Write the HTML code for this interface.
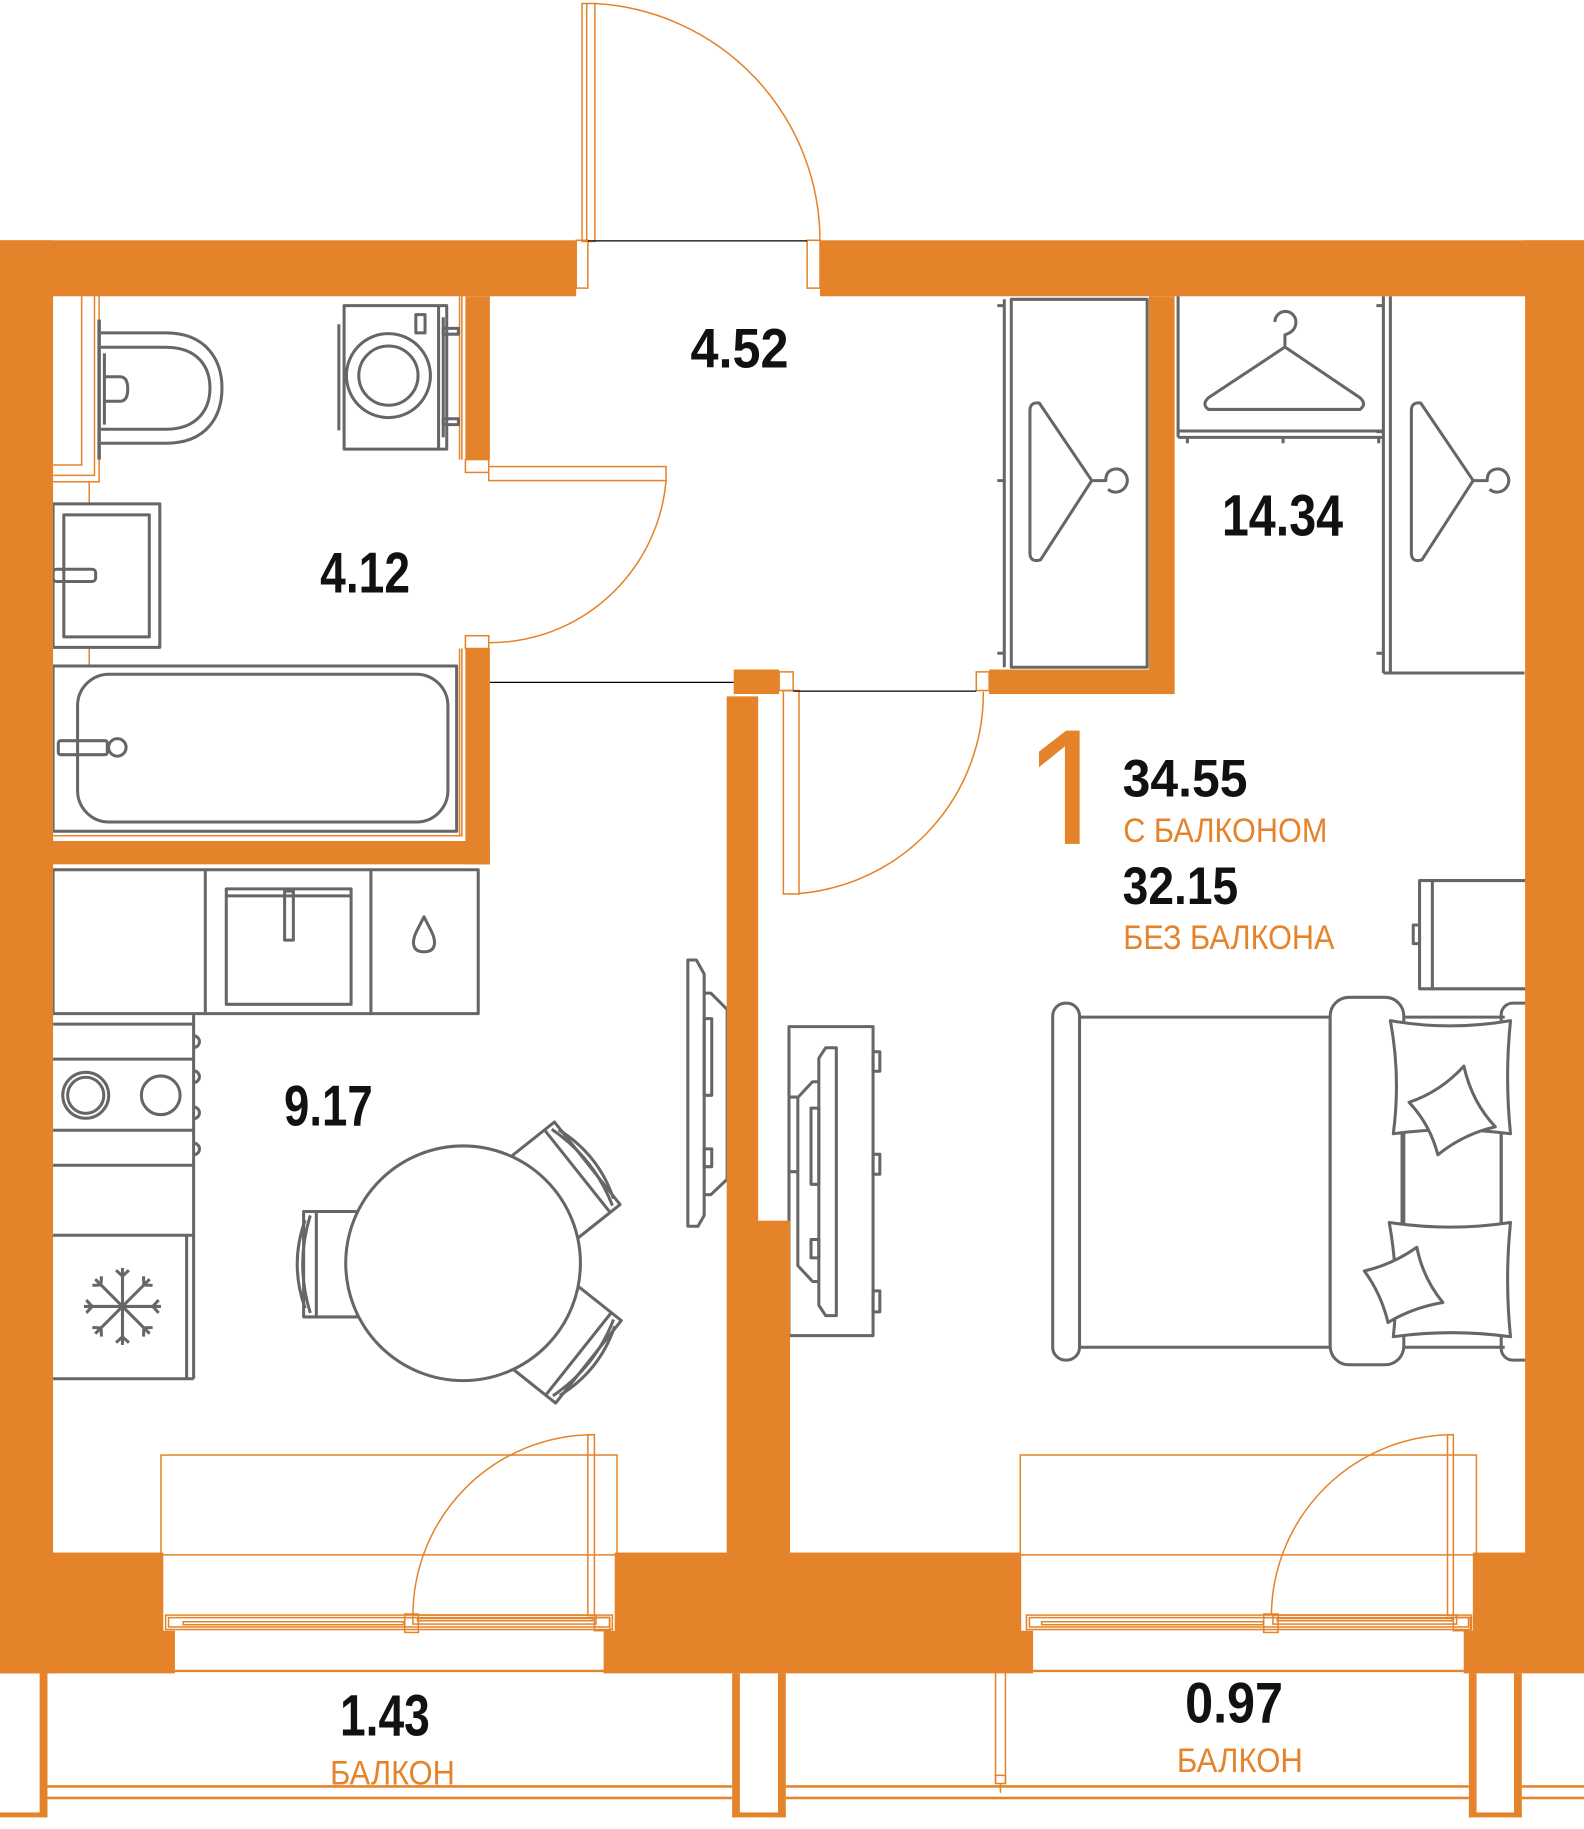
<!DOCTYPE html>
<html><head><meta charset="utf-8"><style>
html,body{margin:0;padding:0;background:#fff;overflow:hidden;}
svg{display:block;}
</style></head><body>
<svg width="1584" height="1829" viewBox="0 0 1358 1568" preserveAspectRatio="none" xmlns="http://www.w3.org/2000/svg">
<rect x="0" y="0" width="1358" height="1568" fill="#fff"/>

<!-- thin orange lines (finishes, doors, windows) -->
<g fill="none" stroke="#E5832A" stroke-width="1.3">
  <!-- bathroom finishes -->
  <path d="M45.5,398.6 H70 V254"/>
  <path d="M45.5,407.5 H81 V254"/>
  <path d="M45.5,413 H85 V252 H396 V394"/>
  <path d="M394,254 V394"/>
  <path d="M76.5,413 V432 M76.5,555 V571"/>
  <path d="M45.5,716.5 H396 V556"/>
  <path d="M394,556 V716"/>
  <!-- entrance door -->
  <rect x="499" y="3" width="11" height="204"/>
  <line x1="503" y1="3" x2="503" y2="207"/>
  <rect x="494" y="206" width="10" height="41"/>
  <rect x="692" y="206" width="11" height="41"/>
  <path d="M510,3 A204,204 0 0 1 703,207"/>
  <!-- bathroom door -->
  <rect x="399" y="394" width="20" height="11"/>
  <rect x="399" y="545" width="20" height="11"/>
  <rect x="419" y="400" width="152" height="12"/>
  <path d="M571,412 A152,152 0 0 1 419,551"/>
  <!-- bedroom door -->
  <rect x="668" y="576" width="12" height="16"/>
  <rect x="837" y="576" width="11" height="16"/>
  <rect x="671.6" y="592" width="13.4" height="174.4"/>
  <path d="M685,766 A172,172 0 0 0 843,593"/>
  <!-- kitchen balcony door/window -->
  <rect x="138" y="1247.4" width="391" height="85.6"/>
  <rect x="142" y="1384.6" width="383" height="12.4"/>
  <rect x="144.5" y="1386.8" width="378" height="8"/>
  <rect x="157" y="1390.3" width="189" height="2.6"/>
  <rect x="347" y="1383.7" width="11.7" height="15.8"/>
  <rect x="354" y="1384.6" width="157" height="7.7"/>
  <rect x="358" y="1387.5" width="150" height="2"/>
  <rect x="509.6" y="1386.6" width="13.2" height="11.4"/>
  <rect x="504" y="1230" width="5.6" height="155"/>
  <path d="M509,1230 A155,155 0 0 0 354,1385"/>
  <!-- bedroom balcony door/window -->
  <rect x="874.7" y="1247.4" width="391.1" height="85.6"/>
  <rect x="880" y="1384.6" width="381.5" height="12.4"/>
  <rect x="882.5" y="1386.8" width="376.5" height="8"/>
  <rect x="893" y="1390.3" width="190" height="2.6"/>
  <rect x="1083.4" y="1383.7" width="12.3" height="15.8"/>
  <rect x="1091.3" y="1384.6" width="157.5" height="7.7"/>
  <rect x="1095" y="1387.5" width="150" height="2"/>
  <rect x="1246" y="1386.6" width="14.6" height="11.4"/>
  <rect x="1241" y="1230" width="5" height="155"/>
  <path d="M1246,1230 A156,156 0 0 0 1090,1385"/>
  <!-- under openings -->
  <line x1="150" y1="1432.5" x2="518" y2="1432.5" stroke-width="2"/>
  <line x1="885" y1="1432.5" x2="1255" y2="1432.5" stroke-width="2"/>
  <!-- thin balcony post -->
  <line x1="853.5" y1="1434" x2="853.5" y2="1529"/>
  <line x1="862" y1="1434" x2="862" y2="1529"/>
  <rect x="853.5" y="1522" width="8.5" height="7"/>
  <line x1="857.7" y1="1529" x2="857.7" y2="1537"/>
</g>

<!-- black threshold lines -->
<g stroke="#000" stroke-width="1">
  <line x1="504" y1="206.5" x2="692" y2="206.5"/>
  <line x1="420" y1="585" x2="629" y2="585"/>
  <line x1="680" y1="592.5" x2="837" y2="592.5"/>
</g>

<!-- gray fixtures -->
<g fill="none" stroke="#666" stroke-width="2.6" stroke-linejoin="round">
  <!-- toilet -->
  <line x1="85" y1="274" x2="85" y2="394" stroke-width="3"/>
  <path d="M86.6,285.4 L142,285.4 C178,285.4 190.3,310 190.3,332.7 C190.3,356 178,380 142,380 L86.6,380"/>
  <path d="M86.6,297.7 L142,297.7 C170,297.7 180,315 180,332.7 C180,350 170,368 142,368 L86.6,368"/>
  <path d="M89.5,323 L103,323 Q109.5,323 109.5,333.5 Q109.5,344 103,344 L89.5,344"/>
  <line x1="89.5" y1="303" x2="89.5" y2="364"/>
  <!-- washing machine -->
  <rect x="295" y="262" width="88" height="123"/>
  <line x1="290.5" y1="278" x2="290.5" y2="369"/>
  <line x1="376" y1="262" x2="376" y2="385"/>
  <line x1="380" y1="272" x2="380" y2="375"/>
  <rect x="380" y="281.5" width="13" height="5"/>
  <rect x="380" y="359" width="13" height="5"/>
  <rect x="356.5" y="269.7" width="7.9" height="15.7"/>
  <circle cx="333" cy="322" r="36"/>
  <circle cx="333" cy="322" r="25.4"/>
  <!-- bathroom sink -->
  <rect x="45.5" y="432" width="91.5" height="123"/>
  <rect x="54.7" y="441.4" width="73.3" height="104.6"/>
  <rect x="45.5" y="488" width="36.5" height="10.5" rx="3"/>
  <!-- bath -->
  <rect x="45.5" y="571" width="346" height="141.6"/>
  <rect x="66.5" y="578" width="317.5" height="126.7" rx="27"/>
  <rect x="50" y="635" width="42" height="12" rx="2"/>
  <circle cx="100.6" cy="640.7" r="7.5"/>

  <!-- kitchen counter -->
  <rect x="45.5" y="745.6" width="364.5" height="123.4"/>
  <line x1="176" y1="745.6" x2="176" y2="869"/>
  <line x1="318" y1="745.6" x2="318" y2="869"/>
  <rect x="194" y="762" width="107" height="99"/>
  <line x1="194" y1="768" x2="301" y2="768"/>
  <rect x="244" y="764" width="7.5" height="42"/>
  <path d="M363.5,786 C358,797 354.5,802 354.5,808 Q354.5,816 363.5,816 Q372.5,816 372.5,808 C372.5,802 369,797 363.5,786 Z"/>
  <!-- left column -->
  <line x1="166" y1="869" x2="166" y2="1182"/>
  <line x1="160" y1="1059" x2="160" y2="1182"/>
  <line x1="45.5" y1="878" x2="166" y2="878"/>
  <line x1="45.5" y1="908" x2="166" y2="908"/>
  <line x1="45.5" y1="969" x2="166" y2="969"/>
  <line x1="45.5" y1="999" x2="166" y2="999"/>
  <line x1="45.5" y1="1059" x2="166" y2="1059"/>
  <line x1="45.5" y1="1182" x2="166" y2="1182"/>
  <circle cx="73.5" cy="939" r="19.7"/>
  <circle cx="73.5" cy="939" r="15.5"/>
  <circle cx="137.8" cy="939" r="16.6"/>
  <path d="M166,888 A4.5,4.5 0 0 1 166,898 M166,918 A4.5,4.5 0 0 1 166,928 M166,949 A4.5,4.5 0 0 1 166,959 M166,980 A4.5,4.5 0 0 1 166,990"/>
  <!-- snowflake -->
  <g transform="translate(105,1120)">
    <g id="arm"><line x1="0" y1="0" x2="0" y2="-33"/><path d="M-5.5,-31 L0,-26 L5.5,-31"/></g>
    <use href="#arm" transform="rotate(45)"/>
    <use href="#arm" transform="rotate(90)"/>
    <use href="#arm" transform="rotate(135)"/>
    <use href="#arm" transform="rotate(180)"/>
    <use href="#arm" transform="rotate(225)"/>
    <use href="#arm" transform="rotate(270)"/>
    <use href="#arm" transform="rotate(315)"/>
  </g>
  <!-- kitchen TV -->
  <path d="M589.7,823 L597,823 L603.7,835 L603.7,1042 L598.4,1051.3 L589.7,1051.3 Z"/>
  <path d="M603.7,851.4 L609.4,851.4 L623.4,865.4 L623.4,1011 L609.4,1024.2 L603.7,1024.2"/>
  <rect x="603.7" y="873.3" width="6.5" height="65.7"/>
  <rect x="603.7" y="984.9" width="6.5" height="15.3"/>
  <!-- chairs -->
  <g id="chair">
    <rect x="260.3" y="1038.6" width="46" height="90.4"/>
    <line x1="271.2" y1="1038.6" x2="271.2" y2="1129"/>
    <path d="M261.6,1046 Q248,1083.8 261.6,1121.6"/>
    <path d="M266,1042 Q253,1083.8 266,1125.6"/>
  </g>
  <use href="#chair" transform="rotate(141.5 397 1083)"/>
  <use href="#chair" transform="rotate(-141.5 397 1083)"/>
  <circle cx="397" cy="1083" r="100.6" fill="#fff"/>

  <!-- wardrobes -->
  <line x1="861" y1="256.6" x2="861" y2="572"/>
  <rect x="867" y="256.6" width="116.5" height="315.4"/>
  <path d="M855,262 h6 M855,412 h6 M855,560 h6"/>
  <path d="M883,352 Q883,344.5 891,345.5 L936,412 L892,480 Q883,482.5 883,474 Z"/>
  <path d="M936,412 L948,412 Q948,402 958,402 A10,10 0 1 1 950,419.5"/>

  <line x1="1010" y1="254" x2="1010" y2="375"/>
  <line x1="1010" y1="369.5" x2="1186" y2="369.5"/>
  <line x1="1010" y1="375" x2="1186" y2="375"/>
  <path d="M1018,375 v5 M1100,375 v5 M1182,375 v5"/>
  <path d="M1101.6,297.5 L1036,341 Q1030,346.5 1036,351 L1166,351 Q1172,346.5 1166,341 Z"/>
  <path d="M1101.6,297.5 L1101.6,287 Q1111,284 1111,276 A9,9 0 1 0 1093,276"/>

  <line x1="1186" y1="254" x2="1186" y2="577"/>
  <line x1="1192" y1="254" x2="1192" y2="577"/>
  <line x1="1186" y1="577" x2="1307" y2="577"/>
  <path d="M1180,262 h6 M1180,370 h6 M1180,560 h6"/>
  <path d="M1210,352 Q1210,344.5 1218,345.5 L1263,412 L1219,480 Q1210,482.5 1210,474 Z"/>
  <path d="M1263,412 L1275,412 Q1275,402 1285,402 A10,10 0 1 1 1277,419.5"/>

  <!-- bedroom TV stand -->
  <rect x="676.4" y="880.1" width="72.1" height="264.9"/>
  <rect x="748.5" y="901.7" width="5.8" height="16.7"/>
  <rect x="748.5" y="989.6" width="5.8" height="17.1"/>
  <rect x="748.5" y="1106.7" width="5.8" height="18"/>
  <path d="M707.9,898.2 L717,898.2 L717,1127.9 L707.9,1127.9 L702,1119 L702,907.2 Z"/>
  <path d="M702,927.4 L696.6,927.4 L684,940.9 L684,1085 L696.6,1098.6 L702,1098.6"/>
  <rect x="695.3" y="950" width="6.7" height="65.3"/>
  <rect x="695.3" y="1062.6" width="6.7" height="15.8"/>
  <path d="M676.4,940.5 h7.6 M676.4,1004.5 h7.6"/>

  <!-- nightstand -->
  <rect x="1217" y="754.9" width="95" height="92.8"/>
  <line x1="1228" y1="754.9" x2="1228" y2="847.7"/>
  <rect x="1211.6" y="793" width="5.4" height="16"/>

  <!-- bed -->
  <rect x="902.5" y="860" width="23" height="306" rx="11"/>
  <rect x="925.5" y="872" width="214.9" height="283"/>
  <line x1="1203.5" y1="872" x2="1290" y2="872"/>
  <line x1="1203.5" y1="1155" x2="1290" y2="1155"/>
  <rect x="1287" y="860" width="30" height="306" rx="10"/>
  <rect x="1140.4" y="855" width="63.1" height="315" rx="16" fill="#fff"/>
  <line x1="1202" y1="972" x2="1202" y2="1048"/>
  <line x1="1287" y1="972" x2="1287" y2="1048"/>
  <path d="M1192,875 Q1243,884 1295,875 Q1290,923 1295,972 Q1244,965 1194.5,972 Q1201,923 1192,875 Z" fill="#fff"/>
  <path d="M1208,945 Q1235,936 1255,914 Q1262,945 1282,966 Q1255,972 1232.7,990 Q1226,964 1208,945 Z" fill="#fff"/>
  <path d="M1191,1048 Q1243,1056 1295,1048 Q1290,1097 1295,1146 Q1244,1139 1194.5,1146 Q1200,1097 1191,1048 Z" fill="#fff"/>
  <path d="M1169.7,1089.6 Q1194,1084 1214.7,1069.3 Q1220,1096 1237,1116.6 Q1211,1121 1190,1133.8 Q1184,1109 1169.7,1089.6 Z" fill="#fff"/>
</g>

<!-- walls -->
<g fill="#E5832A">
  <rect x="0" y="206" width="494" height="48"/>
  <rect x="703" y="206" width="655" height="48"/>
  <rect x="0" y="206" width="45.5" height="1228.6"/>
  <rect x="1307.5" y="206" width="50.5" height="1125"/>
  <rect x="399" y="254" width="21" height="140"/>
  <rect x="399" y="556" width="21" height="185"/>
  <rect x="45" y="721" width="375" height="20"/>
  <rect x="629" y="574" width="39" height="21"/>
  <rect x="623" y="597" width="27" height="452"/>
  <rect x="623" y="1046.5" width="54.3" height="285"/>
  <rect x="985" y="254" width="22" height="341"/>
  <rect x="848" y="574" width="159" height="21"/>
  <rect x="0" y="1331" width="140" height="67.5"/>
  <rect x="0" y="1398" width="150" height="36.6"/>
  <rect x="527" y="1331" width="348.5" height="67.5"/>
  <rect x="517.5" y="1398" width="368.2" height="36.6"/>
  <rect x="1262.7" y="1331" width="95.3" height="67.5"/>
  <rect x="1254.9" y="1398" width="103.1" height="36.6"/>
  <!-- balcony posts and railing -->
  <rect x="34" y="1434.6" width="6.7" height="123.4"/>
  <rect x="0" y="1553.8" width="40.7" height="4.2"/>
  <rect x="627.7" y="1434.6" width="6.6" height="123.4"/>
  <rect x="667" y="1434.6" width="6.7" height="123.4"/>
  <rect x="627.7" y="1553.8" width="46" height="4.2"/>
  <rect x="1259.3" y="1434.6" width="6.6" height="123.4"/>
  <rect x="1298" y="1434.6" width="6.7" height="123.4"/>
  <rect x="1259.3" y="1553.8" width="45.4" height="4.2"/>
  <rect x="40.7" y="1530.4" width="587" height="2.2"/>
  <rect x="40.7" y="1540.3" width="587" height="2.2"/>
  <rect x="673.7" y="1530.4" width="585.6" height="2.2"/>
  <rect x="673.7" y="1540.3" width="585.6" height="2.2"/>
  <rect x="1304.7" y="1530.4" width="53.3" height="2.2"/>
  <rect x="1304.7" y="1540.3" width="53.3" height="2.2"/>
</g>

<!-- text -->
<g font-family="'Liberation Sans', 'Noto Sans CJK SC', sans-serif">
  <g fill="#111" font-weight="700">
    <text x="592" y="315" font-size="48" textLength="84" lengthAdjust="spacingAndGlyphs">4.52</text>
    <text x="274.5" y="508" font-size="49" textLength="77" lengthAdjust="spacingAndGlyphs">4.12</text>
    <text x="1047.5" y="459" font-size="50" textLength="104" lengthAdjust="spacingAndGlyphs">14.34</text>
    <text x="243.5" y="965" font-size="49" textLength="76" lengthAdjust="spacingAndGlyphs">9.17</text>
    <text x="962.5" y="683" font-size="45" textLength="107" lengthAdjust="spacingAndGlyphs">34.55</text>
    <text x="962.5" y="775" font-size="45" textLength="99" lengthAdjust="spacingAndGlyphs">32.15</text>
    <text x="291.5" y="1488" font-size="50" textLength="77" lengthAdjust="spacingAndGlyphs">1.43</text>
    <text x="1016" y="1476.6" font-size="49" textLength="84" lengthAdjust="spacingAndGlyphs">0.97</text>
  </g>
  <g fill="#E5832A">
    <text x="0" y="0" font-size="143" transform="translate(877,737.5) scale(1,1.13)">1</text>
    <text x="963" y="722" font-size="29" textLength="175" lengthAdjust="spacingAndGlyphs">С БАЛКОНОМ</text>
    <text x="963" y="813.6" font-size="29" textLength="181" lengthAdjust="spacingAndGlyphs">БЕЗ БАЛКОНА</text>
    <text x="283" y="1530" font-size="29" textLength="107" lengthAdjust="spacingAndGlyphs">БАЛКОН</text>
    <text x="1009" y="1519" font-size="29" textLength="108" lengthAdjust="spacingAndGlyphs">БАЛКОН</text>
  </g>
</g>
<!-- hide foot of the "1" -->
<rect x="855" y="723.5" width="104" height="18" fill="#fff"/>
</svg>
</body></html>
